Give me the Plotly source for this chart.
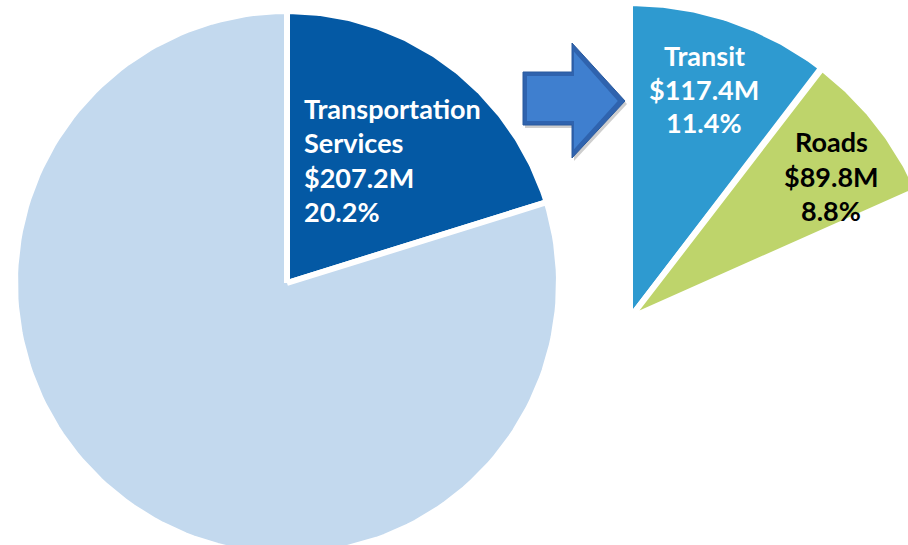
import math
import plotly.graph_objects as go

# ---- data ----
main_labels = ["Transportation Services", "Other"]
main_pct = [20.2, 79.8]
main_amount = ["$207.2M", None]

sub_labels = ["Transit", "Roads"]
sub_amount_m = [117.4, 89.8]
sub_pct = [11.4, 8.8]

# ---- style ----
W, H = 908, 545
MAIN_C = (287, 283)
MAIN_R = 272
SUB_C = (630, 318)
SUB_R = 315
SUB_SWEEP = 66.0  # degrees covered by the detail pie
main_colors = ["#0459A4", "#C3D9EE"]
sub_colors = ["#2E9AD0", "#BED46B"]
sub_text_colors = ["white", "black"]
FONT = "Lato"
FS = 27


def wedge(c, r, a0, a1, n=160):
    cx, cy = c
    xs, ys = [cx], [cy]
    for i in range(n + 1):
        a = math.radians(a0 + (a1 - a0) * i / n)
        xs.append(cx + r * math.sin(a))
        ys.append(cy - r * math.cos(a))
    xs.append(cx)
    ys.append(cy)
    return xs, ys


fig = go.Figure()

# main pie
start = 0.0
for lab, p, col in zip(main_labels, main_pct, main_colors):
    end = start + p * 3.6
    xs, ys = wedge(MAIN_C, MAIN_R, start, end)
    fig.add_trace(go.Scatter(x=xs, y=ys, fill="toself", fillcolor=col, mode="lines",
                             line=dict(color="white", width=6), name=lab,
                             hoverinfo="name", showlegend=False))
    start = end

# detail pie
sub_total = sum(sub_amount_m)
start = 0.0
for lab, v, col in zip(sub_labels, sub_amount_m, sub_colors):
    end = start + v / sub_total * SUB_SWEEP
    xs, ys = wedge(SUB_C, SUB_R, start, end)
    fig.add_trace(go.Scatter(x=xs, y=ys, fill="toself", fillcolor=col, mode="lines",
                             line=dict(color="white", width=6), name=lab,
                             hoverinfo="name", showlegend=False))
    start = end

# labels
annots = []
main_lines = ["Transportation", "Services", main_amount[0], f"{main_pct[0]:.1f}%"]
for i, t in enumerate(main_lines):
    annots.append(dict(x=302, y=108 + 34.5 * i, text=t, xanchor="left", yanchor="middle",
                       showarrow=False, font=dict(family=FONT, size=FS, color="white", weight="bold")))

sub_pos = [(704, [55, 89, 122]), (831, [141, 176, 210])]
for (lab, amt, pct, tc, (x, ys)) in zip(sub_labels, sub_amount_m, sub_pct, sub_text_colors, sub_pos):
    for t, y in zip([lab, f"${amt:.1f}M", f"{pct:.1f}%"], ys):
        annots.append(dict(x=x, y=y, text=t, xanchor="center", yanchor="middle",
                           showarrow=False, font=dict(family=FONT, size=FS, color=tc, weight="bold")))

# arrow
def arrow_path(dx=0, dy=0, inset=0):
    pts = [(523 + inset, 72 + inset), (572 + inset * 0.5, 72 + inset), (572 + inset * 0.5, 43 + inset * 2.2),
           (625 - inset * 1.8, 101), (572 + inset * 0.5, 158 - inset * 2.2), (572 + inset * 0.5, 125 - inset),
           (523 + inset, 125 - inset)]
    return "M " + " L ".join(f"{x + dx},{y + dy}" for x, y in pts) + " Z"

shapes = [
    dict(type="path", xref="x", yref="y", path=arrow_path(2, 3), fillcolor="rgba(60,60,60,0.25)", line=dict(width=0)),
    dict(type="path", xref="x", yref="y", path=arrow_path(), fillcolor="#2F63AE", line=dict(color="#2A5A9E", width=1)),
    dict(type="path", xref="x", yref="y", path=arrow_path(inset=4), fillcolor="#3F7FCF", line=dict(width=0)),
]

fig.update_layout(
    width=W, height=H, margin=dict(l=0, r=0, t=0, b=0),
    paper_bgcolor="white", plot_bgcolor="white",
    xaxis=dict(range=[0, W], visible=False, fixedrange=True),
    yaxis=dict(range=[H, 0], visible=False, fixedrange=True),
    annotations=annots, shapes=shapes, showlegend=False,
)

fig.write_html("out.html", config={"displayModeBar": False},
               post_script="document.body.style.margin='0px';document.body.style.overflow='hidden';")
